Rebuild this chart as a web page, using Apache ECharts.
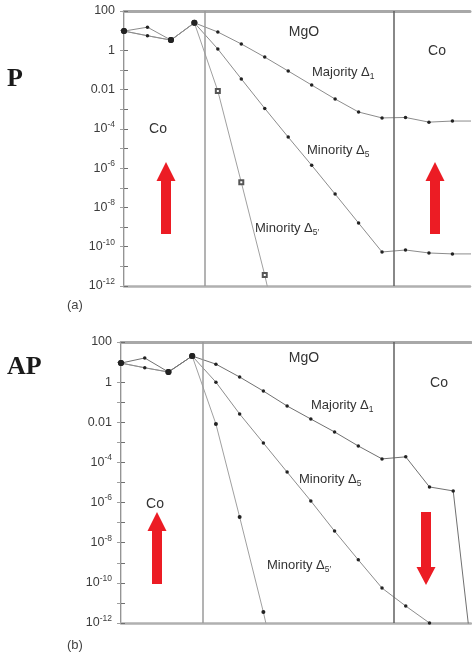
<!DOCTYPE html>
<html><head><meta charset="utf-8">
<script src="https://cdn.jsdelivr.net/npm/echarts@6/dist/echarts.min.js"></script>
<style>html,body{margin:0;padding:0;background:#fff}#c{width:472px;height:658px}</style>
</head><body><div id="c"></div>
<script>
// ---- data (layer index -> decay amplitude) ----
const interfaces = [3.45, 11.5];           // Co/MgO and MgO/Co interface positions (layer units)
// Panel (a): parallel (P)
const majorityP  = [9.5, 15, 3.3, 25, 8.5, 2.1, 0.45, 0.088, 0.017, 3.3e-3, 7.2e-4, 3.6e-4, 3.8e-4, 2.2e-4, 2.5e-4, 2.5e-4];
const minority5P = [9.5, 5.5, 3.3, 25, 1.16, 0.035, 1.1e-3, 3.8e-5, 1.4e-6, 4.8e-8, 1.6e-9, 5.4e-11, 6.8e-11, 4.8e-11, 4.3e-11, 4.3e-11];
const minority5pP = [9.5, 5.5, 3.3, 25, 8.5e-3, 1.9e-7, 3.6e-12, 2e-17];
// Panel (b): antiparallel (AP)
const majorityAP  = [8.9, 16, 3.2, 20, 7.9, 1.8, 0.36, 0.065, 0.0145, 3.3e-3, 6.6e-4, 1.5e-4, 1.9e-4, 6e-6, 3.8e-6, 1.5e-16];
const minority5AP = [8.9, 5.2, 3.2, 20, 1.0, 0.026, 9.3e-4, 3.3e-5, 1.2e-6, 3.8e-8, 1.4e-9, 5.5e-11, 7e-12, 1e-12];
const minority5pAP = [8.9, 5.2, 3.2, 20, 8.2e-3, 1.9e-7, 3.5e-12, 2e-17];
// y tick labels
const yTickExps   = [-12, -10, -8, -6, -4, -2, 0, 2];
const yTickLabels = ['10^-12', '10^-10', '10^-8', '10^-6', '10^-4', '0.01', '1', '100'];

const XMAX = 14.75;
function pairs(vals) { return vals.map((v, i) => [i, v]); }

function tickFmt(v) {
  const e = Math.round(Math.log10(v));
  const k = yTickExps.indexOf(e);
  if (k < 0) return '';
  const s = yTickLabels[k];
  if (s.indexOf('^') >= 0) {
    const p = s.split('^');
    return '{b|' + p[0] + '}{p|' + p[1] + '}';
  }
  return '{b|' + s + '}';
}
const labelRich = {
  b: { fontSize: 12.5, lineHeight: 18, color: '#3c3c3c', fontFamily: 'Liberation Sans', verticalAlign: 'middle' },
  p: { fontSize: 8.5, lineHeight: 18, color: '#3c3c3c', fontFamily: 'Liberation Sans', verticalAlign: 'top' }
};

function xAxes(gi) {
  return [
    { gridIndex: gi, type: 'value', min: 0, max: XMAX, position: 'bottom',
      axisLine: { show: true, lineStyle: { color: '#b0b0b0', width: 2.5 } },
      axisTick: { show: false }, axisLabel: { show: false }, splitLine: { show: false } },
    { gridIndex: gi, type: 'value', min: 0, max: XMAX, position: 'top',
      axisLine: { show: true, lineStyle: { color: '#a8a8a8', width: 3 } },
      axisTick: { show: false }, axisLabel: { show: false }, splitLine: { show: false } }
  ];
}
function yAxes(gi) {
  return [
    { gridIndex: gi, type: 'log', logBase: 10, min: 1e-12, max: 100, interval: 1, position: 'left',
      axisLine: { show: true, lineStyle: { color: '#707070', width: 1.5 } },
      axisTick: { show: true, inside: true, length: 4, lineStyle: { color: '#707070' } },
      axisLabel: { show: true, margin: 9, formatter: tickFmt, rich: labelRich },
      splitLine: { show: false } },
    { gridIndex: gi, type: 'log', logBase: 10, min: 1e-12, max: 100, interval: 1, position: 'right',
      axisLine: { show: true, lineStyle: { color: '#d8d8d8', width: 1 } },
      axisTick: { show: true, inside: true, length: 4, lineStyle: { color: '#a0a0a0' } },
      axisLabel: { show: false }, splitLine: { show: false } }
  ];
}

const bigIdx = [0, 2, 3];
function symSize(v, p) { return bigIdx.indexOf(p.dataIndex) >= 0 ? 6 : 3.5; }
// the third curve shares the Co points with the others; only its MgO points carry own markers
function symSizeOwn(size) { return function (v, p) { return p.dataIndex <= 3 ? 0 : size; }; }
const ifaceColors = ['#9a9a9a', '#606060'];

function series(gi, data, extra) {
  return Object.assign({
    type: 'line', xAxisIndex: gi * 2, yAxisIndex: gi * 2, data: pairs(data),
    symbol: 'circle', symbolSize: symSize, clip: true,
    lineStyle: { color: '#8c8c8c', width: 1 },
    itemStyle: { color: '#222' }, silent: true
  }, extra || {});
}
function iface(gi) {
  return {
    silent: true, symbol: ['none', 'none'], label: { show: false },
    data: interfaces.map((x, i) => ({ xAxis: x, lineStyle: { color: ifaceColors[i], width: 1.5, type: 'solid' } }))
  };
}

function txt(x, y, text, opt) {
  return Object.assign({ type: 'text', x: x, y: y, silent: true,
    style: Object.assign({ text: text, fill: '#333', font: '13px "Liberation Sans"', textVerticalAlign: 'middle', textAlign: 'left' }, opt || {}) });
}
const subRich = {
  b: { fontSize: 13, lineHeight: 18, fill: '#333', fontFamily: 'Liberation Sans', verticalAlign: 'middle' },
  s: { fontSize: 8.5, lineHeight: 18, fill: '#333', fontFamily: 'Liberation Sans', verticalAlign: 'bottom' }
};
function lab(x, y, name, sub) {
  return { type: 'text', x: x, y: y, silent: true,
    style: { text: '{b|' + name + '}{s|' + sub + '}', rich: subRich, textVerticalAlign: 'middle', textAlign: 'left' } };
}
function arrowUp(cx, tip, base, bottom) {
  return { type: 'polygon', silent: true,
    shape: { points: [[cx, tip], [cx + 9.5, base], [cx + 5, base], [cx + 5, bottom], [cx - 5, bottom], [cx - 5, base], [cx - 9.5, base]] },
    style: { fill: '#ec1c24' } };
}
function arrowDown(cx, top, base, tip) {
  return { type: 'polygon', silent: true,
    shape: { points: [[cx - 5, top], [cx + 5, top], [cx + 5, base], [cx + 9.5, base], [cx, tip], [cx - 9.5, base], [cx - 5, base]] },
    style: { fill: '#ec1c24' } };
}

const chart = echarts.init(document.getElementById('c'), null, { renderer: 'canvas' });
chart.setOption({
  animation: false,
  backgroundColor: '#fff',
  grid: [
    { left: 124, top: 11, width: 346, height: 275 },
    { left: 121, top: 342, width: 350, height: 281 }
  ],
  xAxis: xAxes(0).concat(xAxes(1)),
  yAxis: yAxes(0).concat(yAxes(1)),
  series: [
    series(0, minority5pP, { symbol: 'emptyRect', symbolSize: symSizeOwn(4), itemStyle: { color: '#555' }, lineStyle: { color: '#a0a0a0', width: 1 }, markLine: iface(0) }),
    series(0, minority5P),
    series(0, majorityP),
    series(1, minority5pAP, { symbolSize: symSizeOwn(4), lineStyle: { color: '#a0a0a0', width: 1 }, markLine: iface(1) }),
    series(1, minority5AP),
    series(1, majorityAP, { lineStyle: { color: '#707070', width: 1 } })
  ],
  graphic: [
    txt(7, 79, 'P', { font: 'bold 26px "Liberation Serif"', fill: '#1a1a1a' }),
    txt(7, 367, 'AP', { font: 'bold 26px "Liberation Serif"', fill: '#1a1a1a' }),
    txt(67, 305, '(a)', { font: '13px "Liberation Sans"', fill: '#444' }),
    txt(67, 645, '(b)', { font: '13px "Liberation Sans"', fill: '#444' }),
    // panel (a)
    txt(304, 32, 'MgO', { font: '14px "Liberation Sans"', textAlign: 'center' }),
    txt(437, 51, 'Co', { font: '14px "Liberation Sans"', textAlign: 'center' }),
    txt(158, 129, 'Co', { font: '14px "Liberation Sans"', textAlign: 'center' }),
    lab(312, 72, 'Majority Δ', '1'),
    lab(307, 150, 'Minority Δ', '5'),
    lab(255, 228, 'Minority Δ', '5\u2032'),
    // panel (b)
    txt(304, 358, 'MgO', { font: '14px "Liberation Sans"', textAlign: 'center' }),
    txt(439, 383, 'Co', { font: '14px "Liberation Sans"', textAlign: 'center' }),
    txt(155, 504, 'Co', { font: '14px "Liberation Sans"', textAlign: 'center' }),
    lab(311, 405, 'Majority Δ', '1'),
    lab(299, 479, 'Minority Δ', '5'),
    lab(267, 565, 'Minority Δ', '5\u2032'),
    // spin arrows
    arrowUp(166, 162, 181, 234),
    arrowUp(435, 162, 181, 234),
    arrowUp(157, 512, 531, 584),
    arrowDown(426, 512, 567, 585)
  ]
});
</script>
</body></html>
